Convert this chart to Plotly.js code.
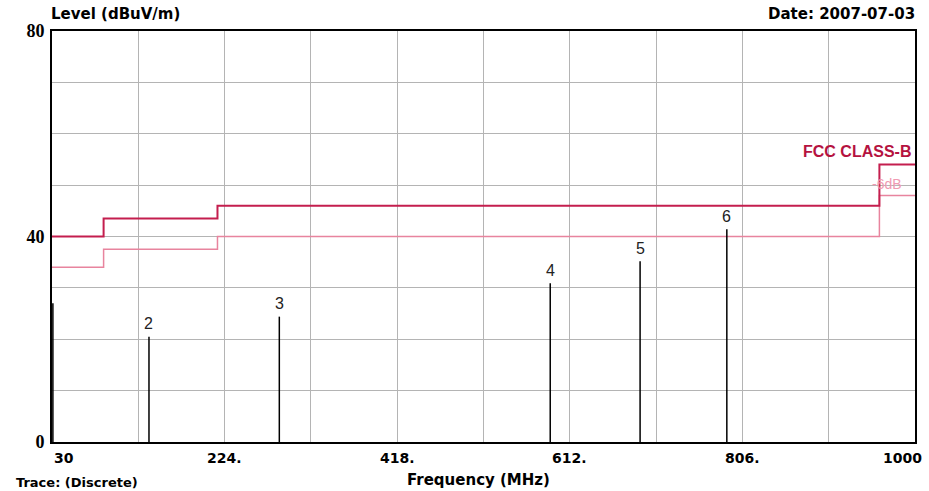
<!DOCTYPE html>
<html>
<head>
<meta charset="utf-8">
<script src="https://cdn.plot.ly/plotly-3.0.1.min.js"></script>
<style>
html,body{margin:0;padding:0;background:#fff;}
#chart{width:929px;height:491px;}
</style>
</head>
<body>
<div id="chart"></div>
<script>
// ---- data ----
const limitFreq = [30, 88, 216, 960, 1000];
const limitClassB = [40, 43.5, 46, 54, 54];
const limitMargin = [34, 37.5, 40, 48, 48];
const peakFreq = [31, 139, 285.5, 590, 691, 788.5];
const peakLevel = [27, 20.5, 24.4, 30.9, 35.2, 41.4];
const peakLabel = ['', '2', '3', '4', '5', '6'];
const xGrid = [30, 127, 224, 321, 418, 515, 612, 709, 806, 903, 1000];
const xTickVals = [30, 224, 418, 612, 806, 1000];
const xTickText = ['30', '224.', '418.', '612.', '806.', '1000'];
const yGrid = [0, 10, 20, 30, 40, 50, 60, 70, 80];
const yTickText = ['0', '', '', '', '40', '', '', '', '80'];

// ---- traces ----
const px = [], py = [];
peakFreq.forEach((f, i) => { px.push(f, f, null); py.push(0, peakLevel[i], null); });

const traces = [
  {x: limitFreq, y: limitMargin, mode: 'lines', line: {shape: 'hv', color: '#e8849e', width: 1.5}, hoverinfo: 'skip'},
  {x: limitFreq, y: limitClassB, mode: 'lines', line: {shape: 'hv', color: '#c41e4e', width: 2}, hoverinfo: 'skip'},
  {x: px, y: py, mode: 'lines', line: {color: '#000', width: 1.5}, hoverinfo: 'skip'}
];

const bold = {family: 'DejaVu Sans', size: 15, color: '#000', weight: 'bold'};
const ann = [];
peakFreq.forEach((f, i) => {
  if (peakLabel[i]) ann.push({x: f, y: peakLevel[i], xref: 'x', yref: 'y', text: peakLabel[i], showarrow: false,
    yshift: 13, font: {family: 'Liberation Sans', size: 16, color: '#222'}});
});
xTickVals.forEach((v, i) => {
  const last = i === xTickVals.length - 1, first = i === 0;
  ann.push({x: v, y: 0, xref: 'x', yref: 'paper', text: xTickText[i], showarrow: false,
    xanchor: first ? 'left' : (last ? 'right' : 'center'), xshift: last ? 9 : 0,
    yanchor: 'middle', yshift: -16, font: {family: 'DejaVu Sans', size: 14, color: '#000', weight: 'bold'}});
});
ann.push({x: 0, y: 1, xref: 'paper', yref: 'paper', text: 'Level (dBuV/m)', showarrow: false,
  xanchor: 'left', yanchor: 'middle', xshift: -3, yshift: 17, font: bold});
ann.push({x: 1, y: 1, xref: 'paper', yref: 'paper', text: 'Date: 2007-07-03', showarrow: false,
  xanchor: 'right', yanchor: 'middle', xshift: 2, yshift: 17, font: bold});
ann.push({x: 0.5, y: 0, xref: 'paper', yref: 'paper', text: 'Frequency (MHz)', showarrow: false,
  xanchor: 'center', yanchor: 'middle', xshift: -5, yshift: -38, font: bold});
ann.push({x: 0, y: 0, xref: 'paper', yref: 'paper', text: 'Trace: (Discrete)', showarrow: false,
  xanchor: 'left', yanchor: 'middle', xshift: -38, yshift: -40, font: {family: 'DejaVu Sans', size: 13, color: '#000', weight: 'bold'}});
ann.push({x: 1, y: 54, xref: 'paper', yref: 'y', text: 'FCC CLASS-B', showarrow: false,
  xanchor: 'right', yanchor: 'middle', xshift: -2, yshift: 13, font: {family: 'Liberation Sans', size: 16, color: '#b5123f', weight: 'bold'}});
ann.push({x: 1, y: 48, xref: 'paper', yref: 'y', text: '-6dB', showarrow: false,
  xanchor: 'right', yanchor: 'middle', xshift: -11, yshift: 11, font: {family: 'Liberation Sans', size: 14, color: '#f09ab2'}});

const layout = {
  width: 929, height: 491,
  margin: {l: 52, r: 14, t: 31, b: 49, pad: 0},
  paper_bgcolor: '#fff', plot_bgcolor: '#fff',
  showlegend: false,
  xaxis: {range: [30, 1000], tickvals: xGrid, showticklabels: false, ticks: '', showgrid: true,
    gridcolor: '#b4b4b4', gridwidth: 1, zeroline: false, showline: true, mirror: true, linecolor: '#000', linewidth: 2},
  yaxis: {range: [0, 80], tickvals: yGrid, ticktext: yTickText, ticks: '', showgrid: true,
    gridcolor: '#b4b4b4', gridwidth: 1, zeroline: false, showline: true, mirror: true, linecolor: '#000', linewidth: 2,
    tickfont: {family: 'Liberation Serif', size: 18, color: '#000', weight: 'bold'}, ticklabelstandoff: 2},
  annotations: ann
};

Plotly.newPlot('chart', traces, layout, {staticPlot: true, displayModeBar: false});
</script>
</body>
</html>
